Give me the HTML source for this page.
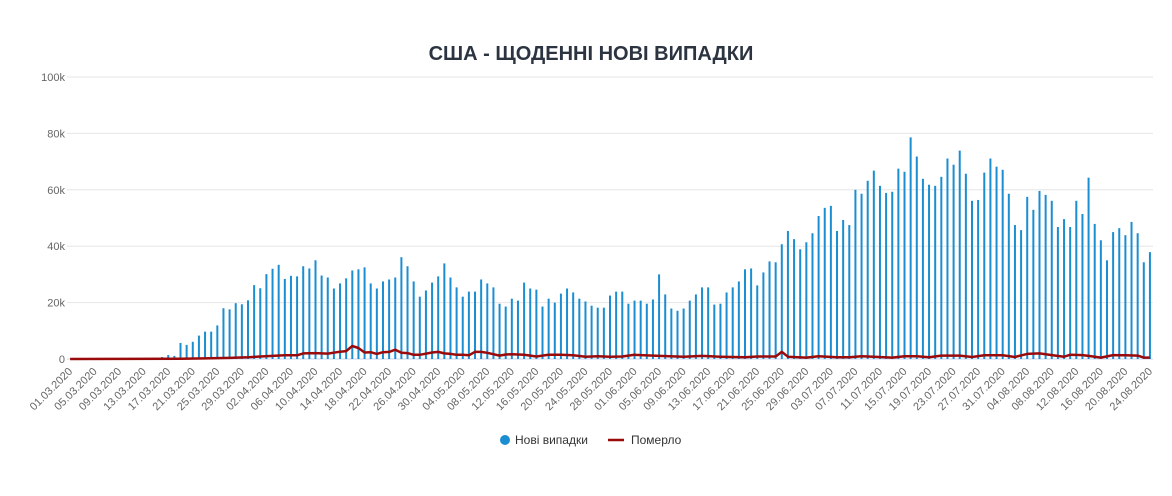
<!DOCTYPE html>
<html><head><meta charset="utf-8">
<style>
html,body{margin:0;padding:0;background:#fff;}
body{width:1172px;height:491px;overflow:hidden;font-family:"Liberation Sans",sans-serif;}
</style></head>
<body>
<svg id="c" width="1172" height="491" xmlns="http://www.w3.org/2000/svg" font-family="Liberation Sans, sans-serif">
<text x="591" y="60" text-anchor="middle" font-size="20" font-weight="bold" fill="#2b3440">США - ЩОДЕННІ НОВІ ВИПАДКИ</text>
<g id="grid"></g>
<g id="bars" fill="#1b8ed1"></g>
<path id="deaths" fill="none" stroke="#9b0a0a" stroke-width="2.5" stroke-linejoin="round"/>
<g id="xl" font-size="11" fill="#666"></g>
<circle cx="505" cy="440" r="5" fill="#1b8ed1"/>
<text x="515" y="444" font-size="12" fill="#333">Нові випадки</text>
<line x1="608" y1="440" x2="624" y2="440" stroke="#9b0a0a" stroke-width="2.5"/>
<text x="631" y="444" font-size="12" fill="#333">Померло</text>
</svg>
<script>
var ns="http://www.w3.org/2000/svg";
function el(t,a,p,txt){var e=document.createElementNS(ns,t);for(var k in a)e.setAttribute(k,a[k]);if(txt!=null)e.textContent=txt;document.getElementById(p).appendChild(e);return e;}
var x0=67,x1=1153,N=177,s=(x1-x0)/N,y0=359,py=2.82;
var g=["0","20k","40k","60k","80k","100k"];
for(var i=0;i<6;i++){var y=y0-i*20*py;
 el("line",{x1:x0,x2:x1,y1:y,y2:y,stroke:i==0?"#ccd6eb":"#e6e6e6","stroke-width":1},"grid");
 el("text",{x:65,y:y+4,"text-anchor":"end","font-size":11,fill:"#666"},"grid",g[i]);}
var v=[];for(i=0;i<15;i++)v.push(0);
v=v.concat([0.7,1.4,1.1,5.7,5,6.1,8.3,9.7,9.7,11.9,18,17.6,19.8,19.4,20.8,26.2,25.1,30.1,32,33.4,28.4,29.5]);
v=v.concat([29.3,32.9,32.1,35,29.6,28.9,25,26.8,28.6,31.4,31.8,32.5,26.8,25,27.5,28.2,28.9,36.1,32.9,27.5,22.1,24.3,27.1,29.3,33.9,28.9,25.4,22.1,23.9,23.9,28.2,26.8,25.4,19.6,18.6,21.4,20.7,27.1,25,24.6,18.6,21.4,20,23.2,25,23.6,21.4,20.4,18.9,18.2,18.2,22.5]);
v=v.concat([23.9,23.9,19.6,20.7,20.7,19.6,21.1,30,22.9,17.9,17.1,17.9,20.7,22.9,25.4,25.4,19.3,19.6,23.6,25.4,27.5,31.8,32.1,26.1,30.7,34.6,34.3,40.7,45.4,42.5,38.9,41.4,44.6,50.7,53.6,54.3,45.4,49.3,47.5,60,58.6,63.2,66.8,61.4,58.9]);
v=v.concat([59.3,67.5,66.4,78.6,71.8,63.9,61.8,61.4,64.6,71.1,68.9,73.9,65.7,56.1,56.4,66.1,71.1,68.2,67.1,58.6,47.5,45.7,57.5,52.9,59.6,58.2,56.1,46.8,49.6,46.8,56.1,51.4,64.3,47.9,42.1,35,45,46.4,43.9,48.6,44.6,34.3,37.9]);
for(i=0;i<N;i++){var cx=x0+s*(i+0.5);if(v[i]>0){var h=v[i]*py;el("rect",{x:cx-1,y:y0-h,width:2,height:h},"bars");}}
var kp=[[0,0],[18,0.1],[22,0.2],[26,0.4],[29,0.6],[31,0.9],[33,1.1],[35,1.3],[37,1.3],[38,2],[40,2.1],[42,1.9],[44,2.6],[45,2.8],[46,4.6],[47,3.9],[48,2.3],[49,2.4],[50,1.8],[51,2.4],[52,2.5],[53,3.3],[54,2.2],[55,2.1],[56,1.5],[57,1.5],[59,2.3],[60,2.5],[61,2.0],[62,1.8],[63,1.5],[64,1.5],[65,1.3],[66,2.5],[67,2.5],[68,2.2],[70,1.2],[71,1.6],[72,1.7],[74,1.5],[76,0.9],[78,1.5],[80,1.5],[82,1.3],[84,0.8],[86,1.0],[88,0.8],[90,0.9],[92,1.5],[95,1.2],[100,0.8],[103,1.1],[106,0.8],[110,0.6],[112,0.9],[115,0.9],[116,2.5],[117,0.8],[120,0.5],[122,1.0],[125,0.6],[127,0.6],[129,1.0],[131,0.8],[134,0.5],[136,1.0],[138,1.0],[140,0.6],[142,1.2],[145,1.2],[147,0.7],[149,1.3],[152,1.3],[154,0.7],[156,1.8],[158,2.0],[160,1.4],[162,0.8],[163,1.5],[165,1.4],[166,1.1],[168,0.5],[170,1.4],[172,1.3],[174,1.2],[175,0.5],[176,0.5]];
var d="";for(var k=0;k<kp.length;k++){var px=x0+s*(kp[k][0]+0.5),yy=y0-kp[k][1]*py;d+=(k?"L":"M")+px.toFixed(1)+","+yy.toFixed(1);}
document.getElementById("deaths").setAttribute("d",d);
for(i=0;i<N;i+=4){var dt=new Date(2020,2,1+i);var dd=("0"+dt.getDate()).slice(-2),mm=("0"+(dt.getMonth()+1)).slice(-2);
 var cx=x0+s*(i+0.5)+3;
 el("text",{x:cx,y:372,"text-anchor":"end",transform:"rotate(-45 "+cx+" 372)"},"xl",dd+"."+mm+".2020");}
</script>
</body></html>
